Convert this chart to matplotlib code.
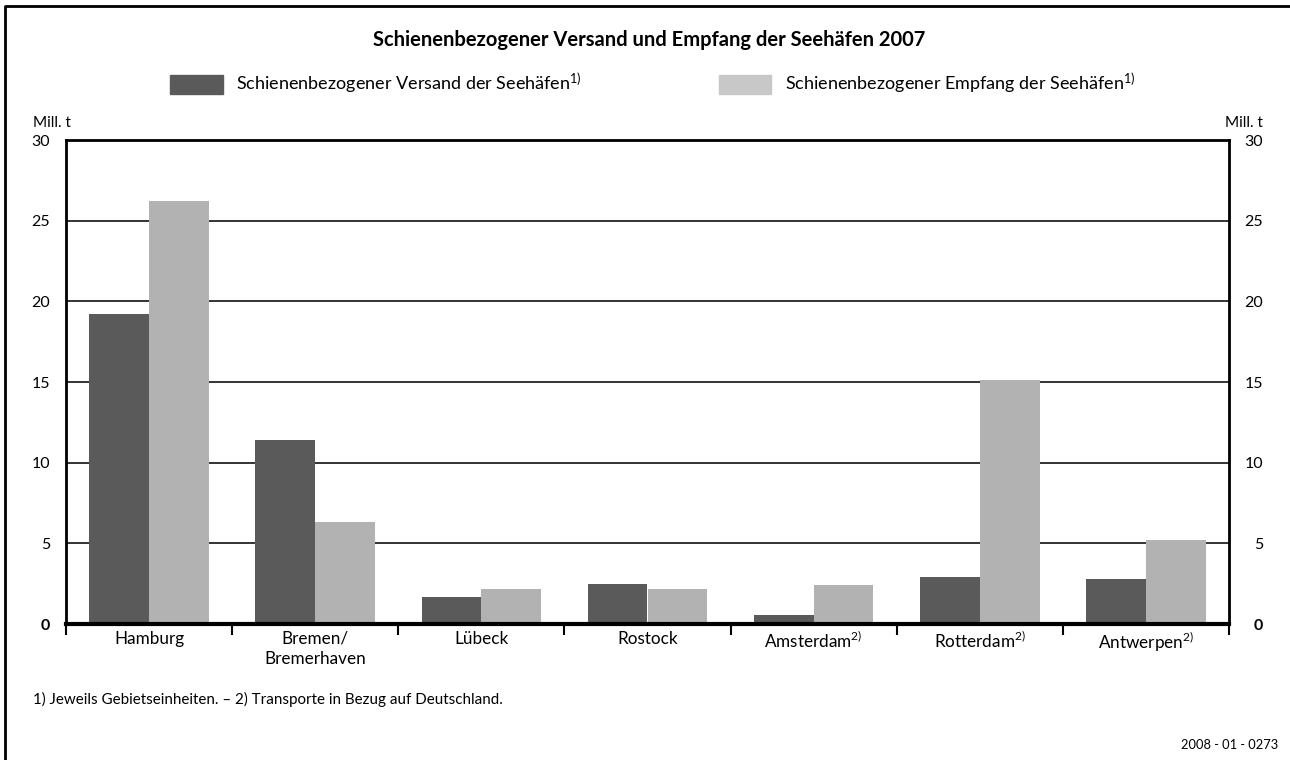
import matplotlib.pyplot as plt
import matplotlib.patches as mpatches
import matplotlib.lines as mlines
import numpy as np

plt.rcParams['font.family'] = ['Lato', 'DejaVu Sans']
plt.rcParams['mathtext.fontset'] = 'custom'
plt.rcParams['mathtext.rm'] = 'Lato'
plt.rcParams['mathtext.default'] = 'regular'

# ----------------
# Data (Mill. t)
ports = ['Hamburg', 'Bremen/\nBremerhaven', 'Lübeck', 'Rostock',
         'Amsterdam$^{2)}$', 'Rotterdam$^{2)}$', 'Antwerpen$^{2)}$']
versand = [19.2, 11.4, 1.7, 2.5, 0.55, 2.9, 2.8]
empfang = [26.2, 6.3, 2.2, 2.2, 2.4, 15.1, 5.2]
yticks = [0, 5, 10, 15, 20, 25, 30]

dark = '#5a5a5a'
light = '#b2b2b2'

fig = plt.figure(figsize=(12.9, 7.6), dpi=100)
ax = fig.add_axes([66/1290, 1-624/760, (1229-66)/1290, (624-140)/760])

x = np.arange(len(ports))
w = 0.36
ax.bar(x - w/2, versand, w, color=dark, zorder=3)
ax.bar(x + w/2, empfang, w, color=light, zorder=3)

ax.set_xlim(-0.5, len(ports) - 0.5)
ax.set_ylim(0, 30)

# gridlines
for v in yticks[1:-1]:
    ax.axhline(v, color='#333333', lw=1.4, zorder=1)

for s in ['left', 'right', 'top']:
    ax.spines[s].set_linewidth(2)
ax.spines['bottom'].set_linewidth(3)
ax.spines['bottom'].set_zorder(4)

# category ticks at boundaries
ax.set_xticks(np.arange(len(ports) + 1) - 0.5)
ax.set_xticklabels([])
ax.set_xticks(x, minor=True)
ax.set_xticklabels(ports, minor=True, fontsize=12.3, linespacing=1.3)
ax.tick_params(axis='x', which='major', length=8, width=1.5, direction='out')
ax.tick_params(axis='x', which='minor', length=0, pad=5)

ylabels = [str(t) for t in yticks]
ax.set_yticks(yticks)
ax.set_yticklabels(ylabels)
ax.tick_params(axis='y', length=0, labelsize=11.5, pad=11.5)

# right hand scale
ax2 = ax.twinx()
ax2.set_ylim(0, 30)
ax2.set_yticks(yticks)
ax2.set_yticklabels(ylabels)
ax2.tick_params(axis='y', length=0, labelsize=11.5, pad=24.5)
for s in ax2.spines.values():
    s.set_visible(False)
for lab in ax2.get_yticklabels():
    lab.set_horizontalalignment('right')

for lab in list(ax.get_yticklabels()) + list(ax2.get_yticklabels()):
    if lab.get_text() == '0':
        lab.set_fontweight('bold')

fig.text(33/1290, 1-123/760, 'Mill. t', fontsize=11, va='center')
fig.text(1263/1290, 1-123/760, 'Mill. t', fontsize=11, va='center', ha='right')

fig.text(649/1290, 1-40/760, 'Schienenbezogener Versand und Empfang der Seehäfen 2007',
         fontsize=14.5, fontweight='bold', ha='center', va='center')

handles = [mpatches.Patch(color=dark, label='Schienenbezogener Versand der Seehäfen$^{1)}$'),
           mpatches.Patch(color='#c8c8c8', label='Schienenbezogener Empfang der Seehäfen$^{1)}$')]
fig.legend(handles=handles, ncol=2, loc='center left',
           bbox_to_anchor=(163/1290, 1-84/760), frameon=False, fontsize=13,
           handlelength=2.9, handleheight=1.3, handletextpad=0.75,
           columnspacing=7.6, borderaxespad=0)

fig.text(33/1290, 1-699/760,
         '1) Jeweils Gebietseinheiten. – 2) Transporte in Bezug auf Deutschland.',
         fontsize=10.9, va='center')
fig.text(1278/1290, 1-745/760, '2008 - 01 - 0273', fontsize=9.3,
         ha='right', va='center')

# outer frame: top and left edges only
fig.lines.append(mlines.Line2D([5/1290, 5/1290, 1], [0, 1-6/760, 1-6/760],
                               transform=fig.transFigure, color='black', lw=2))

fig.savefig('out.png', dpi=100)
